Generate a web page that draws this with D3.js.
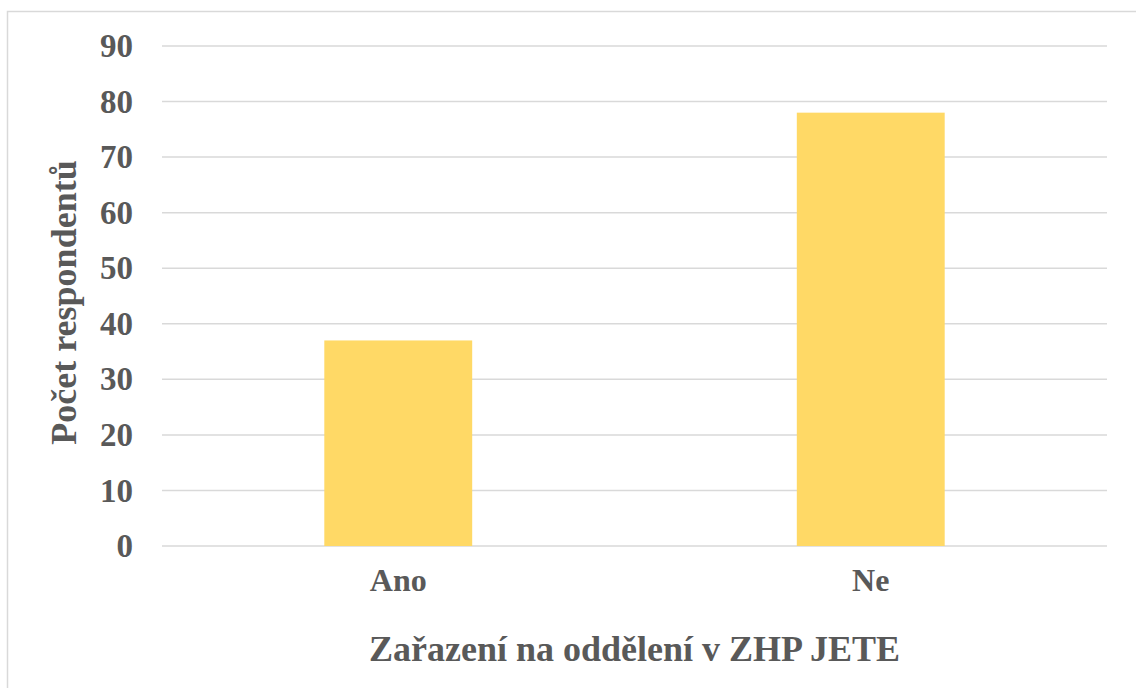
<!DOCTYPE html>
<html><head><meta charset="utf-8">
<script src="https://cdn.jsdelivr.net/npm/d3@7"></script>
<style>html,body{margin:0;padding:0;background:#fff;}svg{display:block;}</style>
</head><body>
<script>
const categories = ["Ano", "Ne"];
const values = [37, 78];
const yTicks = [0, 10, 20, 30, 40, 50, 60, 70, 80, 90];
const xTitle = "Zařazení na oddělení v ZHP JETE";
const yTitle = "Počet respondentů";

const W = 1136, H = 688;
const m = {left: 162, right: 29, top: 46, bottom: 142};
const font = "'Liberation Serif','Times New Roman',serif";
const txt = "#595959";

const svg = d3.select("body").append("svg").attr("width", W).attr("height", H);
svg.append("rect").attr("x", 7.5).attr("y", 11.5).attr("width", W).attr("height", H)
  .attr("fill", "#fff").attr("stroke", "#d9d9d9").attr("stroke-width", 1.5);

const x = d3.scaleBand().domain(categories).range([m.left, W - m.right])
  .paddingInner(0.687).paddingOuter(0.3435);
const y = d3.scaleLinear().domain([0, 90]).range([H - m.bottom, m.top]);

const g = svg.append("g");
g.selectAll("line.grid").data(yTicks).join("line")
  .attr("x1", m.left).attr("x2", W - m.right)
  .attr("y1", d => y(d)).attr("y2", d => y(d))
  .attr("stroke", "#d9d9d9").attr("stroke-width", 1.5);

g.selectAll("rect.bar").data(values).join("rect")
  .attr("x", (d, i) => x(categories[i])).attr("width", x.bandwidth())
  .attr("y", d => y(d)).attr("height", d => y(0) - y(d))
  .attr("fill", "#ffd966");

const ya = svg.append("g").attr("transform", `translate(${m.left},0)`)
  .call(d3.axisLeft(y).tickValues(yTicks).tickSize(0).tickPadding(29));
ya.select(".domain").remove();
ya.selectAll("text").attr("font-family", font).attr("font-weight", "bold")
  .attr("font-size", 33).attr("fill", txt);

const xa = svg.append("g").attr("transform", `translate(0,${y(0)})`)
  .call(d3.axisBottom(x).tickSize(0).tickPadding(22));
xa.select(".domain").remove();
xa.selectAll("text").attr("font-family", font).attr("font-weight", "bold")
  .attr("font-size", 32).attr("fill", txt);

svg.append("text").attr("x", (m.left + W - m.right) / 2).attr("y", 661)
  .attr("text-anchor", "middle").attr("font-family", font).attr("font-weight", "bold")
  .attr("font-size", 36).attr("fill", txt).text(xTitle);

svg.append("text").attr("transform", `translate(76,${(160+445)/2}) rotate(-90)`)
  .attr("text-anchor", "middle").attr("font-family", font).attr("font-weight", "bold")
  .attr("font-size", 36).attr("fill", txt).text(yTitle);
</script>
</body></html>
